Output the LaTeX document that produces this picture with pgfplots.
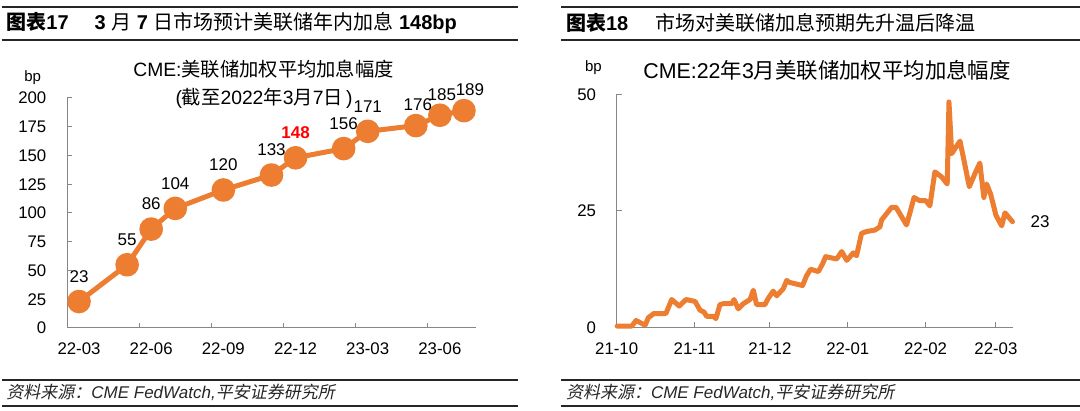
\documentclass[border=0pt]{standalone}
\usepackage{pgfplots}
\pgfplotsset{compat=1.18}
\usepackage{pgfplotstable}
\usepackage{fontspec}
\setmainfont{Liberation Sans}
\newfontfamily\cjk{Noto Sans CJK SC}
\newfontfamily\cjkit[FakeSlant=0.2]{Noto Sans CJK SC}

\definecolor{cmeorange}{HTML}{ED7D31}
\definecolor{axgray}{HTML}{878787}

% left: expected hikes per FOMC meeting (x = months from 2022-03, mid-month)
\pgfplotstableread{
x    y   lab
0.5  23  23
2.5  55  55
3.5  86  86
4.5  104 104
6.5  120 120
8.5  133 133
9.5  148 148
11.5 156 156
12.5 171 171
14.5 176 176
15.5 185 185
16.5 189 189
}\hikes

% right: Mar-22 meeting, x = days from 2021-10-01
\pgfplotstableread{
d v
0.2 0.3
6.0 0.3
7.7 1.5
11.3 0.5
12.6 2.1
14.8 3.0
19.6 3.0
21.9 6.0
24.9 4.6
27.6 6.0
31.2 5.6
33.2 3.7
34.8 3.3
35.8 2.4
38.5 2.4
39.5 1.9
41.1 4.9
42.4 5.1
45.8 5.1
46.7 6.0
48.4 4.0
50.4 5.1
53.1 6.0
54.4 8.0
55.7 4.9
59.0 4.9
60.4 6.3
62.3 7.8
63.7 6.8
66.3 8.3
67.7 10.1
68.7 9.7
74.0 9.0
75.6 11.1
77.2 12.5
80.3 12.0
82.0 13.7
83.2 15.2
87.6 14.7
89.6 16.3
91.6 14.4
94.2 16.0
95.5 15.4
97.5 20.2
99.5 20.6
102.8 20.9
104.8 21.6
105.5 23.1
109.5 25.8
111.2 25.8
115.4 22.0
116.5 24.1
118.4 27.9
120.7 27.2
123.1 27.2
124.7 26.1
126.7 33.4
129.4 32.3
131.6 30.8
132.3 48.4
133.4 37.3
134.7 38.4
136.7 40.0
138.0 36.6
140.4 30.2
142.7 33.1
144.6 35.3
146.2 27.9
147.3 30.8
148.9 28.6
151.0 24.1
153.3 21.8
154.6 24.6
157.6 22.7
}\marchmeet

\pgfplotsset{
  cmeaxis/.style={
    scale only axis, anchor=south west, clip=false,
    axis lines=left,
    axis line style={-, draw=axgray, line width=1pt},
    tick style={draw=axgray, line width=1pt},
    major tick length=5pt, tick align=inside,
    /pgf/number format/assume math mode=true,
    ticklabel style={font=\fontsize{16.8}{18}\selectfont},
    xticklabel style={anchor=north, inner sep=0pt, yshift=-15pt},
    yticklabel style={anchor=east, inner sep=0pt, xshift=-20.5pt},
  },
  vallabel/.style={draw=none, mark=none, point meta=explicit symbolic,
    nodes near coords,
    nodes near coords style={anchor=center, inner sep=0pt, text=black,
      font=\fontsize{17}{18}\selectfont, #1}},
}

\begin{document}
\begin{tikzpicture}
\path[use as bounding box] (0,0) rectangle (1080pt,411pt);

% header and footer rules
\draw[line width=2pt, black!85] (1.7pt,404.1pt) -- (518pt,404.1pt);
\draw[line width=2pt, black!85] (1.7pt,371.4pt) -- (518pt,371.4pt);
\draw[line width=2pt, black!85] (561.3pt,404.1pt) -- (1080pt,404.1pt);
\draw[line width=2pt, black!85] (561.3pt,371.4pt) -- (1080pt,371.4pt);
\draw[line width=2pt, black!85] (1.7pt,30.5pt) -- (518pt,30.5pt);
\draw[line width=2pt, black!85] (1.7pt,4.7pt) -- (518pt,4.7pt);
\draw[line width=2pt, black!85] (561.3pt,30.5pt) -- (1080pt,30.5pt);
\draw[line width=2pt, black!85] (561.3pt,4.7pt) -- (1080pt,4.7pt);

\node[anchor=west, inner sep=0pt, font=\fontsize{20}{22}\selectfont] at (6.2pt,387.6pt)
  {{\cjk\bfseries 图表}\textbf{17}\hspace{26pt}\textbf{3} {\cjk 月} \textbf{7} {\cjk 日市场预计美联储年内加息} \textbf{148bp}};
\node[anchor=west, inner sep=0pt, font=\fontsize{20}{22}\selectfont] at (565.8pt,387.6pt)
  {{\cjk\bfseries 图表}\textbf{18}\hspace{27pt}{\cjk 市场对美联储加息预期先升温后降温}};

\node[anchor=west, inner sep=0pt, font=\fontsize{17}{19}\selectfont, black!85] at (6.2pt,18.5pt)
  {{\cjkit 资料来源：}\textit{CME FedWatch,}{\cjkit 平安证券研究所}};
\node[anchor=west, inner sep=0pt, font=\fontsize{17}{19}\selectfont, black!85] at (565.8pt,18.5pt)
  {{\cjkit 资料来源：}\textit{CME FedWatch,}{\cjkit 平安证券研究所}};

% chart titles and units
\node[inner sep=0pt, font=\fontsize{19.3}{21}\selectfont] at (263.6pt,341.4pt)
  {CME:{\cjk 美联储加权平均加息幅度}};
\node[inner sep=0pt, font=\fontsize{19.3}{21}\selectfont] at (264pt,312.8pt)
  {({\cjk 截至}2022{\cjk 年}3{\cjk 月}7{\cjk 日}\,)};
\node[inner sep=0pt, font=\fontsize{21.4}{23}\selectfont] at (827pt,340.3pt)
  {CME:22{\cjk 年}3{\cjk 月美联储加权平均加息幅度}};
\node[inner sep=0pt, font=\fontsize{15}{16}\selectfont] at (32.7pt,333.5pt) {bp};
\node[inner sep=0pt, font=\fontsize{15}{16}\selectfont] at (593.4pt,343.8pt) {bp};

\begin{axis}[cmeaxis,
  at={(67pt,83pt)}, width=409pt, height=230pt,
  xmin=0, xmax=17, ymin=0, ymax=200,
  xtick={0,3,...,15},
  xticklabels={22-03,22-06,22-09,22-12,23-03,23-06},
  xticklabel style={xshift=12pt},
  ytick={0,25,...,200},
]
\addplot[color=cmeorange, line width=5pt, line join=round,
  mark=*, mark size=9.3pt, mark options={solid, fill=cmeorange, draw=none},
] table[x=x, y=y] {\hikes};
% value labels: most sit 25pt above the dot, the last three a bit lower
\addplot[vallabel={yshift=25pt}] table[x=x, y=y, meta=lab, skip coords between index={6}{7}, skip coords between index={9}{12}] {\hikes};
\addplot[vallabel={yshift=21pt, xshift=2pt}] table[x=x, y=y, meta=lab, skip coords between index={0}{9}, skip coords between index={11}{12}] {\hikes};
\addplot[vallabel={yshift=21pt, xshift=6pt}] table[x=x, y=y, meta=lab, skip coords between index={0}{11}] {\hikes};
\addplot[vallabel={yshift=25pt, text=red, font=\fontsize{17}{18}\selectfont\bfseries}]
  table[x=x, y=y, meta=lab, skip coords between index={0}{6}, skip coords between index={7}{12}] {\hikes};
\end{axis}

\begin{axis}[cmeaxis,
  at={(616.7pt,83.5pt)}, width=396.3pt, height=233pt,
  xmin=0, xmax=157.8, ymin=0, ymax=50,
  xtick={0,31,61,92,123,151},
  xticklabels={21-10,21-11,21-12,22-01,22-02,22-03},
  ytick={0,25,50},
]
\addplot[color=cmeorange, line width=5pt, line join=round, line cap=round, mark=none]
  table[x=d, y=v] {\marchmeet};
\addplot[vallabel={anchor=west, xshift=18pt}] coordinates {(157.6,22.7) [23]};
\end{axis}
\end{tikzpicture}
\end{document}
